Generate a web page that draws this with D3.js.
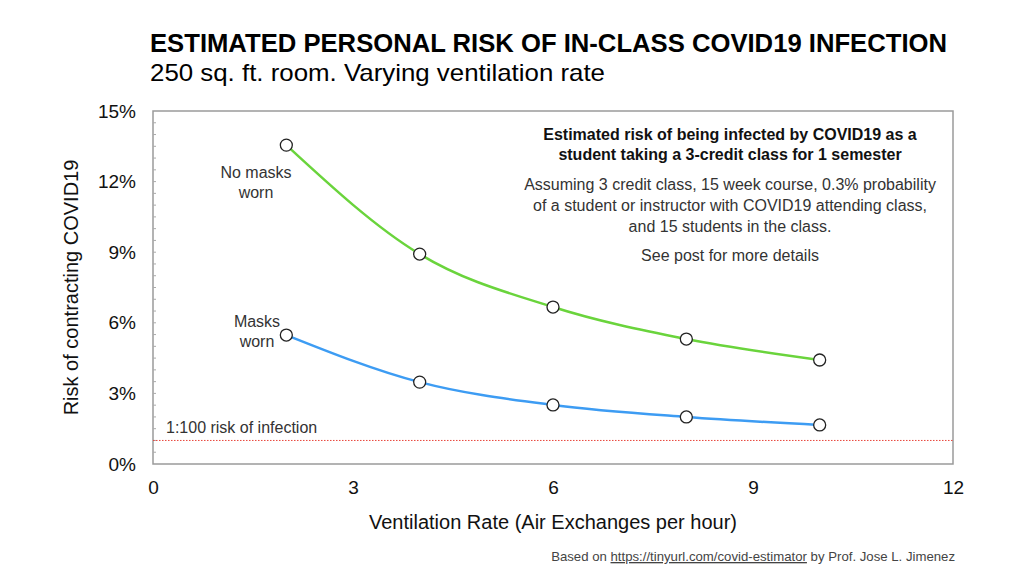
<!DOCTYPE html>
<html>
<head>
<meta charset="utf-8">
<script src="https://cdn.jsdelivr.net/npm/d3@7"></script>
<style>
  body { margin: 0; background: #fff; }
  text { font-family: "Liberation Sans", Arial, sans-serif; }
</style>
</head>
<body>
<div id="chart"></div>
<script>
// Datos
const ventilation = [2, 4, 6, 8, 10];
const noMasks = [13.55, 8.92, 6.67, 5.31, 4.42];
const masks = [5.48, 3.48, 2.51, 2.0, 1.66];
const xTicks = [0, 3, 6, 9, 12];
const yTicks = [0, 3, 6, 9, 12, 15];
const riskLine = 1;

const W = 1024, H = 576;
const margin = { top: 111, right: 71, bottom: 112, left: 153 };
const width = W - margin.left - margin.right;
const height = H - margin.top - margin.bottom;

const svg = d3.select("#chart")
  .append("svg")
  .attr("width", W)
  .attr("height", H);

// Títulos
svg.append("text")
  .attr("x", 150).attr("y", 52)
  .attr("font-size", 25.5).attr("font-weight", "bold")
  .attr("fill", "#000")
  .attr("textLength", 797).attr("lengthAdjust", "spacingAndGlyphs")
  .text("ESTIMATED PERSONAL RISK OF IN-CLASS COVID19 INFECTION");

svg.append("text")
  .attr("x", 150).attr("y", 81)
  .attr("font-size", 24)
  .attr("fill", "#000")
  .attr("textLength", 455).attr("lengthAdjust", "spacingAndGlyphs")
  .text("250 sq. ft. room. Varying ventilation rate");

const g = svg.append("g")
  .attr("transform", `translate(${margin.left},${margin.top})`);

const xScale = d3.scaleLinear().domain([0, 12]).range([0, width]);
const yScale = d3.scaleLinear().domain([0, 15]).range([height, 0]);

// Marco
g.append("rect")
  .attr("width", width).attr("height", height)
  .attr("fill", "none")
  .attr("stroke", "#9a9a9a")
  .attr("stroke-width", 1.5);

// Marcas menores en el eje y
g.selectAll(".minor")
  .data(d3.range(0.5, 15, 0.5))
  .enter().append("line")
  .attr("x1", 0).attr("x2", 3)
  .attr("y1", d => yScale(d)).attr("y2", d => yScale(d))
  .attr("stroke", "#aaa").attr("stroke-width", 1);

// Ejes
const xAxis = g.append("g")
  .attr("transform", `translate(0,${height})`)
  .call(d3.axisBottom(xScale).tickValues(xTicks).tickSize(0).tickPadding(17));
xAxis.select(".domain").remove();
xAxis.selectAll("text").attr("font-size", 19).attr("fill", "#111")
  .style("font-family", "Liberation Sans, Arial, sans-serif");

const yAxis = g.append("g")
  .call(d3.axisLeft(yScale).tickValues(yTicks).tickSize(0).tickPadding(17)
    .tickFormat(d => d + "%"));
yAxis.select(".domain").remove();
yAxis.selectAll("text").attr("font-size", 19).attr("fill", "#111")
  .style("font-family", "Liberation Sans, Arial, sans-serif");

// Etiquetas de ejes
svg.append("text")
  .attr("x", margin.left + width / 2).attr("y", 529)
  .attr("text-anchor", "middle")
  .attr("font-size", 20).attr("fill", "#111")
  .text("Ventilation Rate (Air Exchanges per hour)");

svg.append("text")
  .attr("transform", `translate(78,${margin.top + height / 2}) rotate(-90)`)
  .attr("text-anchor", "middle")
  .attr("font-size", 20).attr("fill", "#111")
  .text("Risk of contracting COVID19");

// Línea de riesgo 1:100
g.append("line")
  .attr("x1", 0).attr("x2", width)
  .attr("y1", yScale(riskLine)).attr("y2", yScale(riskLine))
  .attr("stroke", "#e8453c").attr("stroke-width", 1)
  .attr("stroke-dasharray", "1.5,1.5");

g.append("text")
  .attr("x", 13).attr("y", yScale(riskLine) - 7)
  .attr("font-size", 16).attr("fill", "#333")
  .text("1:100 risk of infection");

// Curvas
const line = d3.line()
  .x(d => xScale(d[0]))
  .y(d => yScale(d[1]))
  .curve(d3.curveMonotoneX);

const series = [
  { values: noMasks, color: "#6ad43c" },
  { values: masks, color: "#3d9cf3" }
];

series.forEach(s => {
  const pts = ventilation.map((v, i) => [v, s.values[i]]);
  g.append("path")
    .datum(pts)
    .attr("fill", "none")
    .attr("stroke", s.color)
    .attr("stroke-width", 2.5)
    .attr("d", line);
  g.selectAll(null)
    .data(pts)
    .enter().append("circle")
    .attr("cx", d => xScale(d[0]))
    .attr("cy", d => yScale(d[1]))
    .attr("r", 6)
    .attr("fill", "#fff")
    .attr("stroke", "#222")
    .attr("stroke-width", 1.3);
});

// Etiquetas de series
const seriesLabel = (lines, x, y) => {
  const t = g.append("text")
    .attr("text-anchor", "middle")
    .attr("font-size", 16).attr("fill", "#333");
  lines.forEach((l, i) => {
    t.append("tspan").attr("x", x).attr("y", y + i * 20).text(l);
  });
};
seriesLabel(["No masks", "worn"], 103, 67);
seriesLabel(["Masks", "worn"], 104, 216);

// Nota
const note1 = ["Estimated risk of being infected by COVID19 as a",
  "student taking a 3-credit class for 1 semester"];
note1.forEach((l, i) => {
  g.append("text")
    .attr("x", 577).attr("y", 29 + i * 20)
    .attr("text-anchor", "middle")
    .attr("font-size", 16).attr("font-weight", "bold").attr("fill", "#111")
    .text(l);
});
const note2 = ["Assuming 3 credit class, 15 week course, 0.3% probability",
  "of a student or instructor with COVID19 attending class,",
  "and 15 students in the class."];
note2.forEach((l, i) => {
  g.append("text")
    .attr("x", 577).attr("y", 79 + i * 21)
    .attr("text-anchor", "middle")
    .attr("font-size", 16).attr("fill", "#333")
    .text(l);
});
g.append("text")
  .attr("x", 577).attr("y", 150)
  .attr("text-anchor", "middle")
  .attr("font-size", 16).attr("fill", "#333")
  .text("See post for more details");

// Pie
const foot = svg.append("text")
  .attr("x", 955).attr("y", 561)
  .attr("text-anchor", "end")
  .attr("font-size", 13.2).attr("fill", "#444");
foot.append("tspan").text("Based on ");
foot.append("tspan").attr("text-decoration", "underline").text("https://tinyurl.com/covid-estimator");
foot.append("tspan").text(" by Prof. Jose L. Jimenez");
</script>
</body>
</html>
